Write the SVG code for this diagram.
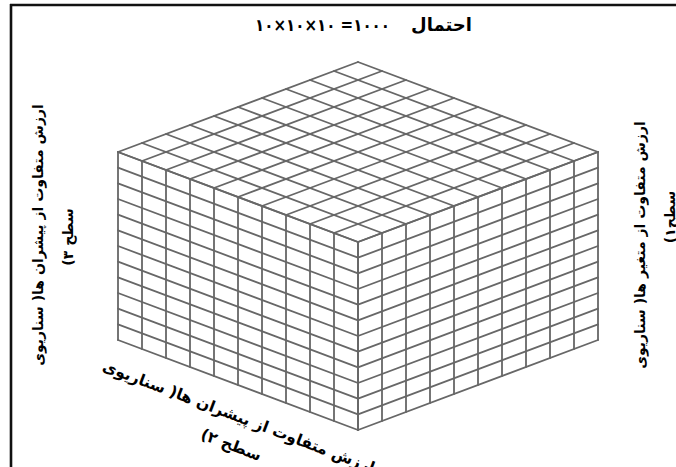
<svg xmlns="http://www.w3.org/2000/svg" width="676" height="467" viewBox="0 0 676 467">
<style>
.g{fill:none;stroke:#676767;stroke-width:1.8;stroke-linecap:round}
.t{font-family:"DejaVu Sans","Noto Sans",sans-serif;font-weight:bold;fill:#000}
</style>
<rect x="0" y="0" width="676" height="467" fill="#fff"/>
<g id="frame" stroke="#111" stroke-width="2.6" fill="none">
<line x1="10" y1="5" x2="676" y2="5"/>
<line x1="11" y1="4" x2="11" y2="467"/>
</g>
<g id="cube">
<g id="top-face">
<path class="g" d="M118,152L358,62M142,161L382,71M166,170L406,80M190,179L430,89M214,188L454,98M238,197L478,107M262,206L502,116M286,215L526,125M310,224L550,134M334,233L574,143M358,242L598,152"/>
<path class="g" d="M118,152L358,242M142,143L382,233M166,134L406,224M190,125L430,215M214,116L454,206M238,107L478,197M262,98L502,188M286,89L526,179M310,80L550,170M334,71L574,161M358,62L598,152"/>
</g>
<g id="left-face">
<path class="g" d="M118,152V340M142,161V349M166,170V358M190,179V367M214,188V376M238,197V385M262,206V394M286,215V403M310,224V412M334,233V421M358,242V430"/>
<path class="g" d="M118,152L358,242M118,167.67L358,257.67M118,183.33L358,273.33M118,199L358,289M118,214.67L358,304.67M118,230.33L358,320.33M118,246L358,336M118,261.67L358,351.67M118,277.33L358,367.33M118,293L358,383M118,308.67L358,398.67M118,324.33L358,414.33M118,340L358,430"/>
</g>
<g id="right-face">
<path class="g" d="M358,242V430M382,233V421M406,224V412M430,215V403M454,206V394M478,197V385M502,188V376M526,179V367M550,170V358M574,161V349M598,152V340"/>
<path class="g" d="M358,242L598,152M358,257.67L598,167.67M358,273.33L598,183.33M358,289L598,199M358,304.67L598,214.67M358,320.33L598,230.33M358,336L598,246M358,351.67L598,261.67M358,367.33L598,277.33M358,383L598,293M358,398.67L598,308.67M358,414.33L598,324.33M358,430L598,340"/>
</g>
</g>
<g id="title">
<text class="t" x="472" y="31" font-size="18" direction="rtl" text-anchor="start">احتمال</text>
<text class="t" x="255" y="31" font-size="17" direction="ltr" unicode-bidi="bidi-override" text-anchor="start" textLength="135" lengthAdjust="spacingAndGlyphs">۱۰×۱۰×۱۰ =۱۰۰۰</text>
</g>
<g id="label-left" class="t" font-size="14" text-anchor="middle" direction="rtl">
<text transform="translate(43,235) rotate(-90)">ارزش متفاوت از پیشران ها( سناریوی</text>
<text transform="translate(73,237) rotate(-90)">سطح ۳)</text>
</g>
<g id="label-right" class="t" font-size="14" text-anchor="middle" direction="rtl">
<text transform="translate(645,245) rotate(-90)">ارزش متفاوت از متغیر ها( سناریوی</text>
<text transform="translate(675,217) rotate(-90)">سطح۱)</text>
</g>
<g id="label-bottom" class="t" font-size="15.5" text-anchor="middle" direction="rtl" transform="translate(239,416) rotate(20.8)">
<text x="0" y="6">ارزش متفاوت از پیشران ها( سناریوی</text>
<text x="3" y="35">سطح ۲)</text>
</g>
</svg>
